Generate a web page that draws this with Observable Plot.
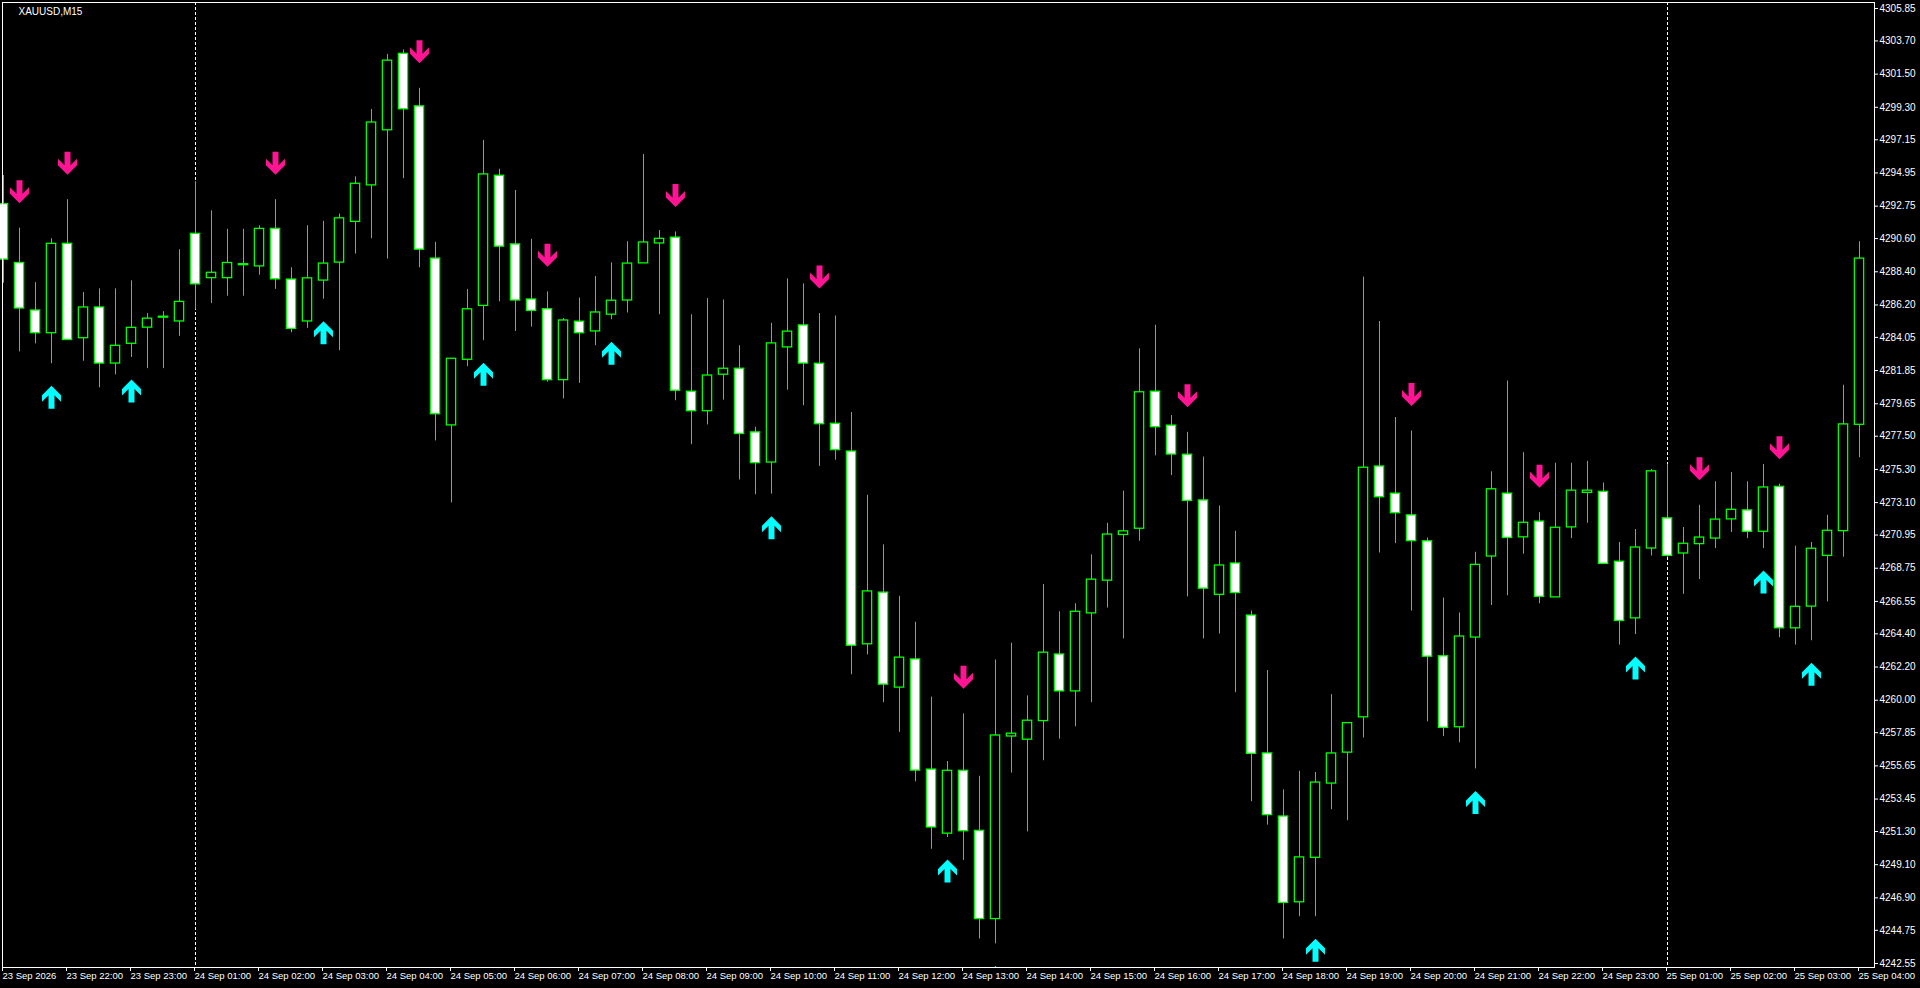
<!DOCTYPE html>
<html>
<head>
<meta charset="utf-8">
<script src="https://cdn.jsdelivr.net/npm/d3@7"></script>
<script src="https://cdn.jsdelivr.net/npm/@observablehq/plot@0.6"></script>
<style>
html,body{margin:0;padding:0;background:#000;overflow:hidden}
#chart svg{display:block}
</style>
</head>
<body>
<div id="chart"></div>
<script>
// ---- data (XAUUSD M15, bar index 0 = 23 Sep 21:00) ----
const chartTitle = "XAUUSD,M15";

const open = [4292.85,4288.95,4285.80,4284.36,4290.22,4284.03,4286.00,4282.35,4283.66,4284.73,
4285.39,4285.14,4290.88,4288.01,4288.01,4288.87,4288.79,4291.21,4287.85,4285.14,
4287.85,4289.04,4291.74,4294.16,4297.81,4302.81,4299.33,4289.24,4278.25,4282.60,
4286.17,4294.73,4290.18,4286.53,4285.88,4281.25,4285.06,4284.48,4285.59,4286.53,
4288.99,4290.31,4290.63,4280.42,4279.19,4281.61,4281.94,4277.72,4275.79,4283.42,
4284.81,4282.27,4278.29,4276.45,4263.74,4267.10,4260.87,4262.67,4255.37,4251.19,
4255.29,4251.31,4245.53,4257.63,4257.42,4258.65,4263.00,4260.62,4265.79,4267.96,
4270.99,4271.40,4280.42,4278.17,4276.24,4273.21,4267.02,4269.03,4265.58,4256.44,
4252.26,4246.64,4249.59,4254.51,4256.56,4258.90,4275.46,4273.66,4272.22,4270.50,
4262.88,4258.24,4264.19,4269.56,4273.66,4270.83,4271.81,4266.85,4271.49,4273.78,
4273.78,4269.15,4265.46,4270.09,4272.02,4269.76,4270.38,4270.75,4272.02,4272.55,
4271.20,4274.11,4264.80,4266.24,4269.60,4271.24,4278.29];

const high = [4294.78,4291.29,4287.68,4290.59,4293.18,4287.03,4287.27,4287.27,4287.80,4285.63,
4285.76,4289.86,4294.37,4292.44,4291.21,4291.21,4291.45,4293.18,4288.67,4291.45,
4291.74,4292.23,4294.69,4299.16,4302.81,4303.10,4300.56,4290.35,4282.60,4287.23,
4297.11,4295.19,4293.79,4290.55,4287.07,4285.30,4286.66,4288.09,4288.99,4290.39,
4296.17,4291.13,4291.04,4285.55,4286.62,4286.53,4283.50,4278.09,4284.98,4287.93,
4287.60,4285.63,4285.47,4279.07,4273.58,4270.30,4266.89,4265.17,4260.21,4255.94,
4259.10,4254.96,4262.67,4263.78,4260.29,4267.67,4265.87,4266.40,4269.64,4271.73,
4273.86,4283.29,4284.85,4278.87,4277.76,4276.12,4272.88,4271.20,4265.91,4261.97,
4254.06,4255.29,4255.21,4260.37,4258.45,4288.05,4285.10,4278.74,4277.84,4270.75,
4266.77,4265.79,4269.81,4275.14,4281.16,4276.41,4272.43,4275.71,4275.71,4275.83,
4274.40,4270.46,4271.32,4275.30,4275.63,4271.45,4272.92,4274.48,4275.09,4274.48,
4275.63,4274.32,4270.21,4270.46,4272.26,4280.88,4290.39];

const low = [4287.64,4283.09,4283.62,4282.31,4283.87,4282.47,4280.71,4281.57,4282.72,4281.98,
4281.98,4284.12,4285.88,4286.29,4286.78,4286.78,4288.17,4287.23,4284.36,4284.65,
4286.58,4283.17,4289.57,4290.59,4289.24,4294.57,4288.67,4277.19,4273.08,4282.11,
4283.83,4286.41,4284.44,4284.73,4281.08,4279.97,4281.00,4283.50,4285.22,4285.67,
4288.99,4285.55,4279.85,4276.94,4278.25,4279.89,4274.60,4273.62,4273.66,4280.55,
4279.52,4275.50,4275.91,4261.69,4263.00,4259.84,4257.87,4254.59,4250.12,4250.90,
4249.38,4244.18,4243.85,4255.17,4251.27,4255.99,4257.42,4258.24,4259.84,4266.11,
4264.06,4270.54,4276.20,4274.89,4266.85,4264.06,4264.39,4260.50,4253.28,4251.72,
4244.18,4245.65,4245.65,4252.75,4252.01,4257.50,4269.76,4270.38,4265.91,4258.57,
4257.59,4257.18,4255.45,4266.28,4266.93,4269.68,4266.40,4266.85,4270.71,4271.73,
4268.99,4263.65,4264.35,4269.56,4269.48,4267.02,4268.00,4270.05,4271.12,4270.71,
4270.05,4264.15,4263.65,4263.94,4266.52,4269.48,4276.08];

const close = [4289.24,4286.00,4284.36,4290.22,4283.91,4286.00,4282.35,4283.46,4284.65,4285.26,
4285.39,4286.37,4287.60,4288.30,4288.95,4288.87,4291.21,4287.93,4284.65,4287.93,
4288.91,4291.91,4294.20,4298.26,4302.36,4299.20,4289.90,4278.99,4282.60,4285.88,
4294.82,4290.10,4286.53,4285.84,4281.25,4285.14,4284.36,4285.67,4286.45,4288.91,
4290.31,4290.55,4280.55,4279.19,4281.49,4281.94,4277.68,4275.75,4283.62,4284.40,
4282.35,4278.33,4276.61,4263.65,4267.18,4261.07,4262.79,4255.37,4251.60,4255.29,
4251.35,4245.53,4257.63,4257.75,4258.61,4263.12,4260.62,4265.83,4267.96,4270.95,
4271.16,4280.38,4278.13,4276.32,4273.25,4267.43,4268.90,4267.14,4256.48,4252.42,
4246.60,4249.55,4254.51,4256.44,4258.45,4275.38,4273.49,4272.43,4270.58,4262.92,
4258.20,4264.19,4268.94,4273.95,4270.79,4271.73,4266.89,4271.40,4273.86,4273.86,
4269.07,4265.29,4270.09,4275.14,4269.60,4270.34,4270.75,4271.94,4272.59,4271.20,
4274.07,4264.80,4266.16,4270.01,4271.20,4278.25,4289.24];

// indicator signals (bar indices)
const sellSignals = [1,4,17,26,34,42,51,60,74,88,96,106,111];
const buySignals  = [3,8,20,30,38,48,59,62,82,92,102,110,113];

// day separators (bar indices)
const daySeparators = [12,104];

// price axis labels
const priceTicks = [4305.85,4303.70,4301.50,4299.30,4297.15,4294.95,4292.75,4290.60,4288.40,4286.20,
4284.05,4281.85,4279.65,4277.50,4275.30,4273.10,4270.95,4268.75,4266.55,4264.40,
4262.20,4260.00,4257.85,4255.65,4253.45,4251.30,4249.10,4246.90,4244.75,4242.55];

// time axis labels (one every 4 bars)
const timeTickIndex = [0,4,8,12,16,20,24,28,32,36,40,44,48,52,56,60,64,68,72,76,80,84,88,92,96,100,104,108,112,116];
const timeTickLabels = ["23 Sep 2026","23 Sep 22:00","23 Sep 23:00","24 Sep 01:00","24 Sep 02:00","24 Sep 03:00",
"24 Sep 04:00","24 Sep 05:00","24 Sep 06:00","24 Sep 07:00","24 Sep 08:00","24 Sep 09:00","24 Sep 10:00",
"24 Sep 11:00","24 Sep 12:00","24 Sep 13:00","24 Sep 14:00","24 Sep 15:00","24 Sep 16:00","24 Sep 17:00",
"24 Sep 18:00","24 Sep 19:00","24 Sep 20:00","24 Sep 21:00","24 Sep 22:00","24 Sep 23:00","25 Sep 01:00",
"25 Sep 02:00","25 Sep 03:00","25 Sep 04:00"];

// ---- build ----
const candles = open.map((o, i) => ({i, o, h: high[i], l: low[i], c: close[i]}));
const sells = sellSignals.map(i => candles[i]);
const buys = buySignals.map(i => candles[i]);
const tickLabel = new Map(timeTickIndex.map((t, k) => [t, timeTickLabels[k]]));

const downArrow = {draw(ctx) {
  ctx.moveTo(0, 0); ctx.lineTo(9.5, -9.5); ctx.lineTo(9.5, -16); ctx.lineTo(3, -9.5);
  ctx.lineTo(3, -23); ctx.lineTo(-3, -23); ctx.lineTo(-3, -9.5); ctx.lineTo(-9.5, -16);
  ctx.lineTo(-9.5, -9.5); ctx.closePath();
}};
const upArrow = {draw(ctx) {
  ctx.moveTo(0, 0); ctx.lineTo(9.5, 9.5); ctx.lineTo(9.5, 16); ctx.lineTo(3, 9.5);
  ctx.lineTo(3, 23); ctx.lineTo(-3, 23); ctx.lineTo(-3, 9.5); ctx.lineTo(-9.5, 16);
  ctx.lineTo(-9.5, 9.5); ctx.closePath();
}};

const GREEN = "#00ff00";
const font = "'Liberation Sans', Arial, sans-serif";

const chart = Plot.plot({
  width: 1920,
  height: 988,
  marginLeft: 2,
  marginRight: 46,
  marginTop: 2,
  marginBottom: 21,
  style: {background: "#000", color: "#fff", fontFamily: font, fontSize: "10px"},
  x: {domain: [-1/16, 1871/16]},
  y: {domain: [4242.285, 4306.248]},
  color: {type: "identity"},
  marks: [
    Plot.ruleX(daySeparators, {x: d => d, stroke: "#fff", strokeDasharray: "3,2", strokeWidth: 1}),
    Plot.ruleX(candles, {x: "i", y1: "l", y2: "h", stroke: GREEN, strokeWidth: 1}),
    Plot.rect(candles, {
      x1: d => d.i - 0.29, x2: d => d.i + 0.29,
      y1: d => Math.max(d.o, d.c), y2: d => Math.min(d.o, d.c),
      insetTop: -0.5, insetBottom: -0.5,
      fill: d => d.c >= d.o ? "#000" : "#fff",
      stroke: GREEN, strokeWidth: 1.3
    }),
    Plot.dot(sells, {x: "i", y: "h", dy: -25, symbol: downArrow, r: 6, fill: "#ff1493", stroke: "none", clip: true}),
    Plot.dot(buys, {x: "i", y: "l", dy: 22, symbol: upArrow, r: 6, fill: "#00ffff", stroke: "none", clip: true}),
    Plot.frame({stroke: "#fff", strokeWidth: 1}),
    Plot.axisY(priceTicks, {anchor: "right", tickSize: 3, tickPadding: 2, tickFormat: d3.format(".2f"),
      label: null, stroke: "#fff", fill: "#fff", fontSize: 10}),
    Plot.axisX(timeTickIndex, {anchor: "bottom", tickSize: 4, tickPadding: 1, tickFormat: d => tickLabel.get(d),
      textAnchor: "start", dx: -1, label: null, stroke: "#fff", fill: "#fff", fontSize: 9.5}),
    Plot.text([chartTitle], {frameAnchor: "top-left", dx: 16, dy: 5, lineAnchor: "top", textAnchor: "start",
      fill: "#fff", fontSize: 10})
  ]
});
document.getElementById("chart").appendChild(chart);
</script>
</body>
</html>
